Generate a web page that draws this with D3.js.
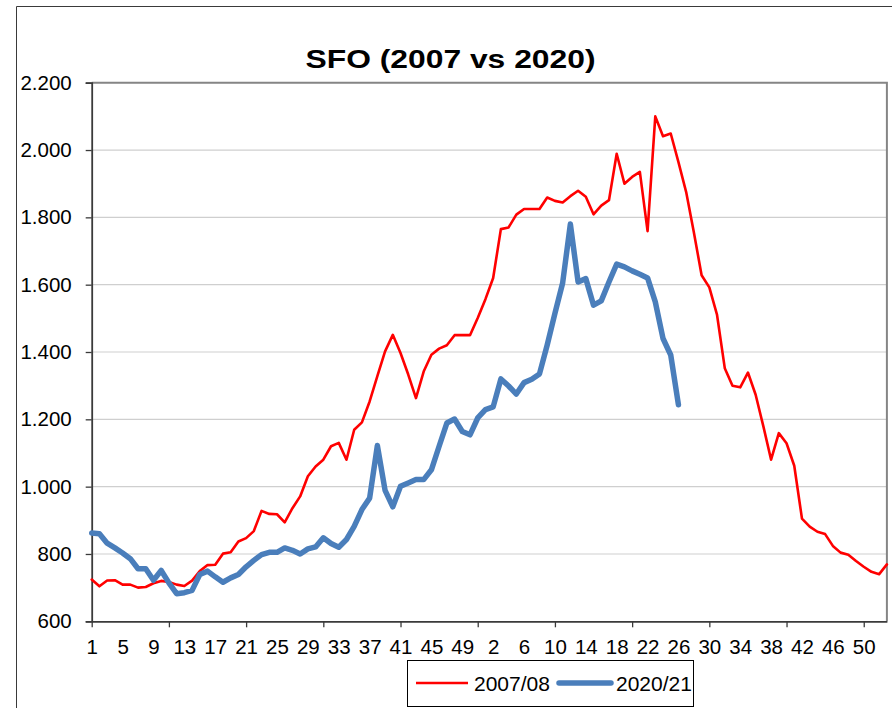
<!DOCTYPE html>
<html>
<head>
<meta charset="utf-8">
<script src="https://cdn.jsdelivr.net/npm/d3@7"></script>
<style>
  html, body { margin: 0; padding: 0; background: #ffffff; }
  svg { display: block; font-family: "Liberation Sans", Arial, sans-serif; }
</style>
</head>
<body>
<svg id="chart" width="892" height="708"></svg>
<script>
// ---------- DATA ----------
const titleText = "SFO (2007 vs 2020)";
const seriesNames = ["2007/08", "2020/21"];

// x categories: week numbers (first season, then second season)
const weekLabels = [
  1,2,3,4,5,6,7,8,9,10,11,12,13,14,15,16,17,18,19,20,21,22,23,24,25,26,27,28,29,30,
  31,32,33,34,35,36,37,38,39,40,41,42,43,44,45,46,47,48,49,50,51,
  1,2,3,4,5,6,7,8,9,10,11,12,13,14,15,16,17,18,19,20,21,22,23,24,25,26,27,28,29,30,
  31,32,33,34,35,36,37,38,39,40,41,42,43,44,45,46,47,48,49,50,51,52,53
];

const values2007 = [
  724,704,721,722,709,709,700,702,713,720,717,709,705,721,749,767,768,801,805,837,
  847,868,928,919,918,894,936,971,1031,1060,1080,1120,1130,1080,1169,1191,1253,1328,1402,1451,
  1397,1333,1263,1342,1392,1410,1420,1450,1450,1450,1501,1557,1620,1765,1770,1808,1825,1825,1825,1859,
  1849,1844,1863,1879,1861,1809,1835,1851,1989,1900,1920,1935,1759,2100,2041,2049,1964,1875,1755,1628,
  1592,1510,1352,1300,1295,1339,1273,1179,1080,1159,1129,1062,905,881,866,859,824,804,798,779,
  762,747,740,769
];

const values2020 = [
  862,860,832,818,803,786,756,756,722,751,714,682,685,692,739,749,732,716,729,739,
  762,781,798,805,805,818,811,800,815,821,848,831,820,843,882,932,966,1122,989,940,
  1001,1011,1021,1021,1050,1120,1189,1201,1164,1154,1204,1229,1237,1320,1299,1275,1309,1319,1335,1421,
  1515,1605,1780,1608,1618,1539,1552,1608,1661,1653,1641,1631,1620,1549,1440,1391,1243
];

const yTicks = [600, 800, 1000, 1200, 1400, 1600, 1800, 2000, 2200];
const labelEvery = 4;     // category label interval
const tickEvery = 10;     // tick mark interval

// ---------- LAYOUT ----------
const svg = d3.select("#chart");
const plot = { left: 91.7, right: 886.9, top: 82.7, bottom: 621.3 };

const idx = weekLabels.map((d, i) => i);
const x = d3.scalePoint().domain(idx).range([plot.left, plot.right]);
const y = d3.scaleLinear().domain([600, 2200]).range([plot.bottom, plot.top]);

const fmt = d3.formatLocale({ decimal: ",", thousands: ".", grouping: [3], currency: ["", ""] }).format(",");

svg.append("rect").attr("width", 892).attr("height", 708).attr("fill", "#fff");

// outer chart frame (left & top visible)
svg.append("path")
  .attr("d", "M16.5,708 L16.5,6.5 L892,6.5")
  .attr("fill", "none").attr("stroke", "#3a3a3a").attr("stroke-width", 1);

// gridlines
svg.append("g").selectAll("line")
  .data(yTicks.filter(v => v > 600 && v < 2200))
  .join("line")
  .attr("x1", plot.left).attr("x2", plot.right)
  .attr("y1", d => y(d)).attr("y2", d => y(d))
  .attr("stroke", "#cfcfcf").attr("stroke-width", 1.2);

// plot area border top/right
svg.append("path")
  .attr("d", `M${plot.left},${y(2200)} L${plot.right},${y(2200)} L${plot.right},${plot.bottom}`)
  .attr("fill", "none").attr("stroke", "#858585").attr("stroke-width", 2);

// title
svg.append("text")
  .attr("x", 450.5).attr("y", 68)
  .attr("text-anchor", "middle")
  .attr("font-size", 26).attr("font-weight", "bold")
  .attr("textLength", 290).attr("lengthAdjust", "spacingAndGlyphs")
  .attr("fill", "#000")
  .text(titleText);

// Y axis
const yAxis = d3.axisLeft(y).tickValues(yTicks).tickFormat(fmt).tickSizeOuter(0).tickSize(6).tickPadding(14);
const gy = svg.append("g").attr("transform", `translate(${plot.left},0)`).call(yAxis);
gy.select(".domain").attr("stroke", "#3a3a3a").attr("stroke-width", 1.8);
gy.selectAll(".tick line").attr("stroke", "#3a3a3a").attr("stroke-width", 1.3);
gy.selectAll(".tick text").attr("font-size", 20.5).attr("fill", "#000")
  .attr("font-family", "Liberation Sans, Arial, sans-serif");

// X axis
const xAxis = d3.axisBottom(x)
  .tickValues(idx)
  .tickFormat(i => (i % labelEvery === 0 ? String(weekLabels[i]) : ""))
  .tickSizeOuter(0).tickSize(0).tickPadding(18);
const gx = svg.append("g").attr("transform", `translate(0,${plot.bottom})`).call(xAxis);
gx.select(".domain").attr("stroke", "#3a3a3a").attr("stroke-width", 1.8);
gx.selectAll(".tick text").attr("font-size", 20.5).attr("fill", "#000")
  .attr("font-family", "Liberation Sans, Arial, sans-serif");
gx.selectAll(".tick").filter(i => i % tickEvery === 0)
  .append("line").attr("y1", 0).attr("y2", 6)
  .attr("stroke", "#3a3a3a").attr("stroke-width", 1.3);

// lines
const line = d3.line().x((d, i) => x(i)).y(d => y(d));
svg.append("path").datum(values2007)
  .attr("d", line)
  .attr("fill", "none").attr("stroke", "#ff0000").attr("stroke-width", 2.6)
  .attr("stroke-linejoin", "round").attr("stroke-linecap", "round");
svg.append("path").datum(values2020)
  .attr("d", line)
  .attr("fill", "none").attr("stroke", "#4a7ebb").attr("stroke-width", 5.5)
  .attr("stroke-linejoin", "round").attr("stroke-linecap", "round");

// legend
const lg = svg.append("g");
lg.append("rect").attr("x", 407.5).attr("y", 660.5).attr("width", 286).attr("height", 46)
  .attr("fill", "#fff").attr("stroke", "#000").attr("stroke-width", 1);
lg.append("line").attr("x1", 416).attr("x2", 468).attr("y1", 683).attr("y2", 683)
  .attr("stroke", "#ff0000").attr("stroke-width", 2.6);
lg.append("text").attr("x", 474).attr("y", 691).attr("font-size", 21).attr("fill", "#000").text(seriesNames[0]);
lg.append("line").attr("x1", 559).attr("x2", 611).attr("y1", 683).attr("y2", 683)
  .attr("stroke", "#4a7ebb").attr("stroke-width", 5.5).attr("stroke-linecap", "round");
lg.append("text").attr("x", 616).attr("y", 691).attr("font-size", 21).attr("fill", "#000").text(seriesNames[1]);
</script>
</body>
</html>
